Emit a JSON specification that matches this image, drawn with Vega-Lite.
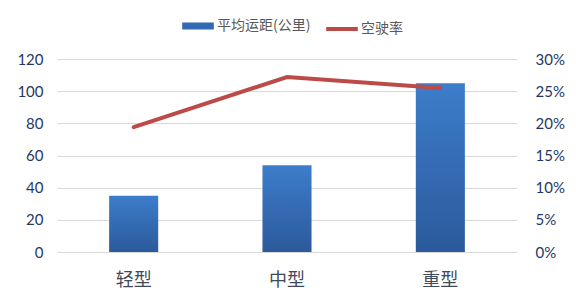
{
  "$schema": "https://vega.github.io/schema/vega-lite/v6.json",
  "width": 460,
  "height": 193,
  "autosize": {"type": "none"},
  "padding": {"left": 57, "top": 59, "right": 59, "bottom": 46},
  "background": "white",
  "config": {
    "view": {"stroke": null},
    "font": "Noto Sans CJK SC"
  },
  "data": {
    "values": [
      {"type": "轻型", "distance": 35, "empty_rate": 0.194},
      {"type": "中型", "distance": 54, "empty_rate": 0.272},
      {"type": "重型", "distance": 105, "empty_rate": 0.255}
    ]
  },
  "encoding": {
    "x": {
      "field": "type",
      "type": "nominal",
      "sort": null,
      "scale": {"paddingInner": 0.68, "paddingOuter": 0.34},
      "axis": {
        "title": null,
        "labelAngle": 0,
        "domain": false,
        "ticks": false,
        "labelPadding": 19,
        "labelFontSize": 18,
        "labelColor": "#3f4a5c",
        "labelFont": "Noto Sans CJK SC"
      }
    }
  },
  "layer": [
    {
      "mark": {
        "type": "bar",
        "color": {
          "gradient": "linear",
          "x1": 0, "y1": 0, "x2": 0, "y2": 1,
          "stops": [
            {"offset": 0, "color": "#3d7dcb"},
            {"offset": 1, "color": "#2b5a9b"}
          ]
        }
      },
      "encoding": {
        "y": {
          "field": "distance",
          "type": "quantitative",
          "scale": {"domain": [0, 120]},
          "axis": {
            "title": null,
            "values": [0, 20, 40, 60, 80, 100, 120],
            "domain": false,
            "ticks": false,
            "grid": true,
            "gridColor": "#d9d9d9",
            "labelPadding": 14,
            "labelFontSize": 15,
            "labelFont": "Lato",
            "labelColor": "#1f3864"
          }
        }
      }
    },
    {
      "mark": {"type": "line", "strokeWidth": 4, "strokeCap": "round"},
      "encoding": {
        "y": {
          "field": "empty_rate",
          "type": "quantitative",
          "scale": {"domain": [0, 0.3]},
          "axis": {
            "orient": "right",
            "title": null,
            "format": ".0%",
            "values": [0, 0.05, 0.1, 0.15, 0.2, 0.25, 0.3],
            "domain": false,
            "ticks": false,
            "grid": false,
            "labelPadding": 18,
            "labelFontSize": 15,
            "labelFont": "Lato",
            "labelColor": "#1f3864"
          }
        },
        "color": {
          "datum": "空驶率",
          "scale": {
            "domain": ["平均运距(公里)", "空驶率"],
            "range": ["#3369b3", "#bc4a47"]
          },
          "legend": {
            "title": null,
            "orient": "none",
            "legendX": 134,
            "legendY": -40,
            "direction": "horizontal",
            "symbolType": "stroke",
            "symbolSize": 1000,
            "symbolStrokeWidth": 4,
            "labelFontSize": 14,
            "labelColor": "#595959",
            "labelOffset": 12,
            "columnPadding": 7,
            "encode": {
              "symbols": {
                "update": {
                  "strokeWidth": {"signal": "datum.label === '空驶率' ? 4 : 7"}
                }
              }
            }
          }
        }
      }
    }
  ],
  "resolve": {"scale": {"y": "independent"}}
}
